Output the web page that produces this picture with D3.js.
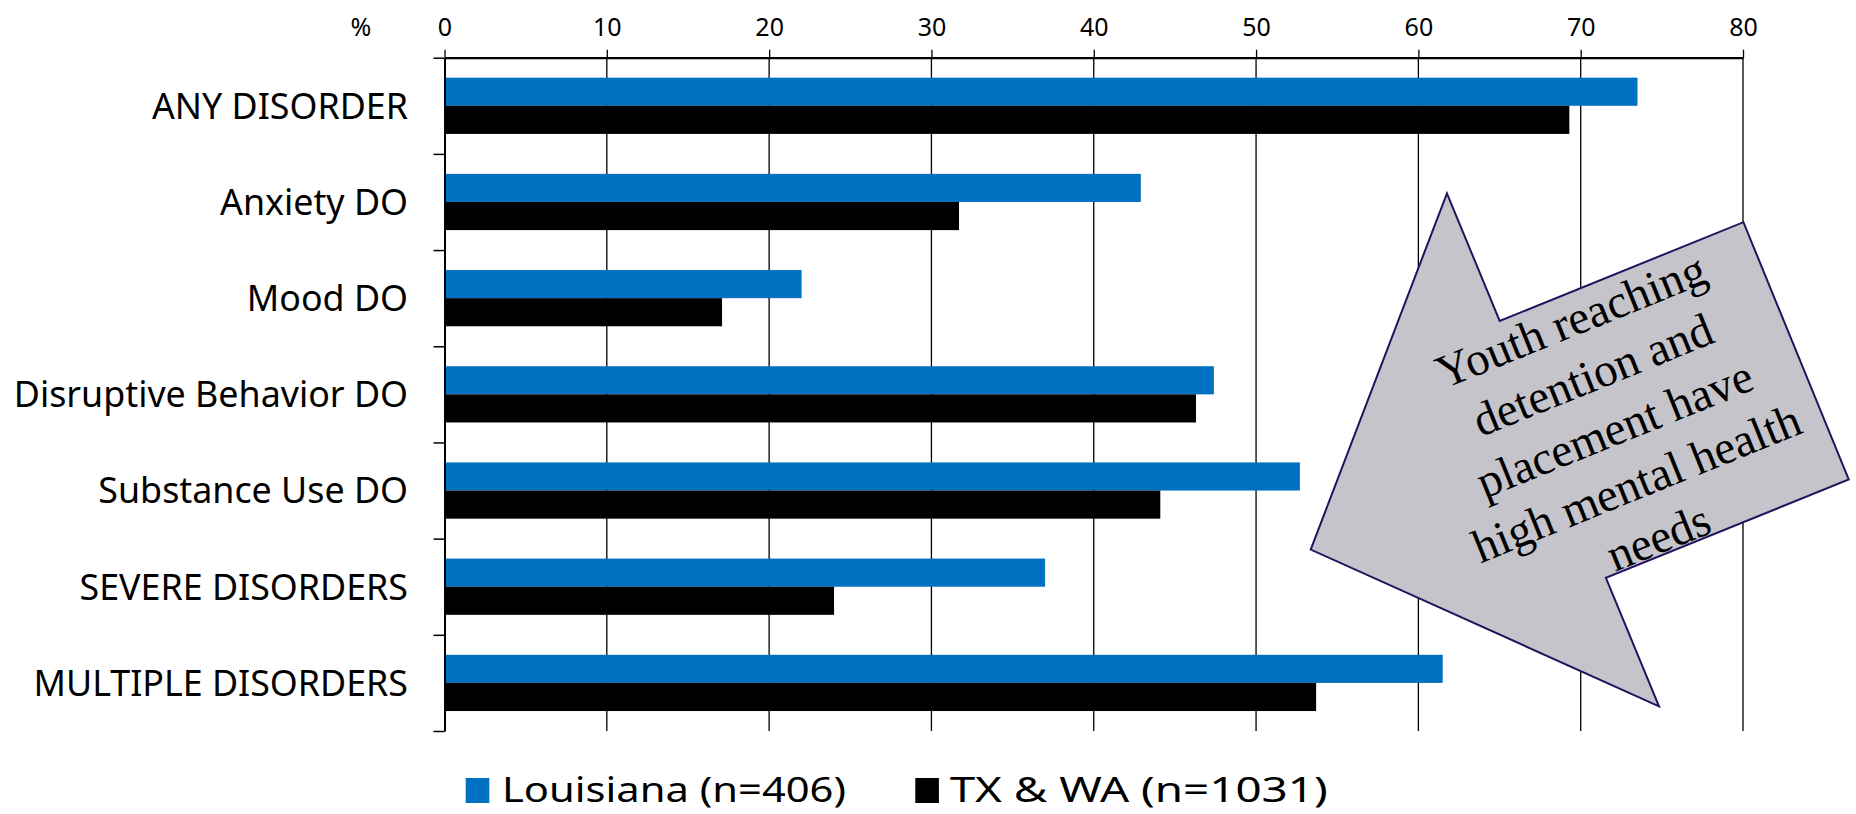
<!DOCTYPE html>
<html>
<head>
<meta charset="utf-8">
<script src="https://cdn.jsdelivr.net/npm/d3@7"></script>
<style>
  html, body { margin: 0; padding: 0; background: #fff; }
  svg { display: block; }
</style>
</head>
<body>
<svg id="chart" width="1856" height="814"></svg>
<script>
// ---- data ----
const categories = ["ANY DISORDER", "Anxiety DO", "Mood DO", "Disruptive Behavior DO",
                    "Substance Use DO", "SEVERE DISORDERS", "MULTIPLE DISORDERS"];
const seriesNames = ["Louisiana (n=406)", "TX & WA (n=1031)"];
const louisiana = [73.5, 42.9, 22.0, 47.4, 52.7, 37.0, 61.5];
const txwa      = [69.3, 31.7, 17.1, 46.3, 44.1, 24.0, 53.7];
const xTicks = [0, 10, 20, 30, 40, 50, 60, 70, 80];
const seriesColors = ["#0070C0", "#000000"];
const calloutLines = ["Youth reaching", "detention and", "placement have", "high mental health", "needs"];

// ---- layout ----
const svg = d3.select("#chart");
const plot = { left: 444.5, right: 1743, top: 57.7, bottom: 731 };
const labelFont = "'Noto Sans', sans-serif";

const x = d3.scaleLinear().domain([0, 80]).range([plot.left, plot.right]);
const y = d3.scaleBand().domain(categories).range([plot.top, plot.bottom]).paddingInner(0).paddingOuter(0);
const sub = d3.scaleBand().domain(seriesNames).range([0, y.bandwidth()]).paddingInner(0).paddingOuter(0.71);
const boundary = d3.scaleLinear().domain([0, categories.length]).range([plot.top, plot.bottom]);

// gridlines
svg.append("g").selectAll("line").data(xTicks.slice(1)).join("line")
  .attr("x1", d => x(d)).attr("x2", d => x(d))
  .attr("y1", plot.top).attr("y2", plot.bottom)
  .attr("stroke", "#000").attr("stroke-width", 1.3);

// bars
const rows = categories.map((c, i) => ({ cat: c, vals: [louisiana[i], txwa[i]] }));
const gRows = svg.append("g").selectAll("g").data(rows).join("g")
  .attr("transform", d => `translate(0,${y(d.cat)})`);
gRows.selectAll("rect").data(d => d.vals.map((v, j) => ({ v, s: seriesNames[j], j }))).join("rect")
  .attr("x", x(0))
  .attr("y", d => sub(d.s))
  .attr("width", d => x(d.v) - x(0))
  .attr("height", sub.bandwidth())
  .attr("fill", d => seriesColors[d.j]);

// top axis
const topAxis = svg.append("g").attr("transform", `translate(0,${plot.top})`)
  .call(d3.axisTop(x).tickValues(xTicks).tickSize(8).tickPadding(14).tickSizeOuter(0));
topAxis.select(".domain").attr("stroke", "#000").attr("stroke-width", 2.2);
topAxis.selectAll(".tick line").attr("stroke", "#000").attr("stroke-width", 1.3);
topAxis.selectAll(".tick text").attr("font-family", labelFont).attr("font-size", 25).attr("fill", "#000");
svg.append("text").attr("x", 361).attr("y", 35.5).attr("text-anchor", "middle")
  .attr("font-family", labelFont).attr("font-size", 25).text("%");

// left axis (ticks at category boundaries)
const leftAxis = svg.append("g").attr("transform", `translate(${plot.left},0)`)
  .call(d3.axisLeft(boundary).ticks(categories.length).tickSize(11).tickFormat("").tickSizeOuter(0));
leftAxis.select(".domain").attr("stroke", "#000").attr("stroke-width", 2);
leftAxis.selectAll(".tick line").attr("stroke", "#000").attr("stroke-width", 1.5);

// category labels
svg.append("g").selectAll("text").data(categories).join("text")
  .attr("x", 408).attr("y", d => y(d) + y.bandwidth() / 2)
  .attr("dy", "0.36em").attr("text-anchor", "end")
  .attr("font-family", labelFont).attr("font-size", 35.8).attr("fill", "#000")
  .text(d => d);

// callout arrow (rotated block arrow)
const arrow = { tipX: 1310.7, tipY: 549.6, angle: -22.05, headLen: 261, headHalf: 278, shaftHalf: 139, len: 524 };
const arrowShape = [
  [0, 0], [arrow.headLen - 1, -arrow.headHalf - 1], [arrow.headLen, -arrow.shaftHalf - 2],
  [arrow.len, -arrow.shaftHalf - 2], [arrow.len + 1, arrow.shaftHalf - 2], [arrow.headLen + 2, arrow.shaftHalf - 2],
  [arrow.headLen + 3, arrow.headHalf - 2]
];
const ga = svg.append("g").attr("transform", `translate(${arrow.tipX},${arrow.tipY}) rotate(${arrow.angle})`);
ga.append("polygon")
  .attr("points", arrowShape.map(p => p.join(",")).join(" "))
  .attr("fill", "#C5C4CB").attr("stroke", "#24125E").attr("stroke-width", 2).attr("stroke-linejoin", "miter");
ga.append("g").selectAll("text").data(calloutLines).join("text")
  .attr("x", 327).attr("y", (d, i) => 4 + (i - 2) * 58.4)
  .attr("dy", "0.3em").attr("text-anchor", "middle")
  .attr("font-family", "'Liberation Serif', 'DejaVu Serif', serif").attr("font-size", 47).attr("fill", "#000")
  .text(d => d);

// legend
const legendItems = [
  { name: seriesNames[0], color: seriesColors[0], sx: 465.7, tx: 502, w: 344 },
  { name: seriesNames[1], color: seriesColors[1], sx: 915.3, tx: 949.7, w: 378 }
];
const lg = svg.append("g");
lg.selectAll("rect").data(legendItems).join("rect")
  .attr("x", d => d.sx).attr("y", 778).attr("width", 23.6).attr("height", 25)
  .attr("fill", d => d.color);
lg.selectAll("text").data(legendItems).join("text")
  .attr("x", d => d.tx).attr("y", 802)
  .attr("font-family", labelFont).attr("font-size", 35).attr("fill", "#000")
  .attr("textLength", d => d.w).attr("lengthAdjust", "spacingAndGlyphs")
  .text(d => d.name);
</script>
</body>
</html>
